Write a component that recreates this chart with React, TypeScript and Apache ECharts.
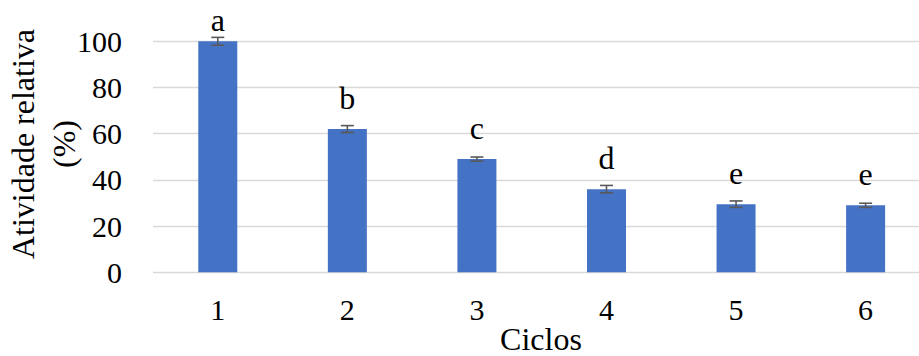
import React, { useEffect, useRef } from "react";
import * as echarts from "echarts";

const categories = ["1", "2", "3", "4", "5", "6"];
const values = [100, 62, 49, 36, 29.5, 29];
const errors = [1.7, 1.5, 0.9, 1.6, 1.4, 0.9];
const letters = ["a", "b", "c", "d", "e", "e"];
const yTitleLines = ["Atividade relativa", "(%)"];
const xTitle = "Ciclos";

const FONT = "Liberation Serif, Times New Roman, serif";

export default function App() {
  const ref = useRef<HTMLDivElement>(null);
  useEffect(() => {
    if (!ref.current) return;
    const chart = echarts.init(ref.current, null, { renderer: "svg" });
    const errData = values.map((v, i) => [i, v - errors[i], v + errors[i]]);
    const titleStyle = {
      fontFamily: FONT,
      fontSize: 32,
      fill: "#000",
      textAlign: "center",
      textVerticalAlign: "middle",
    };
    chart.setOption({
      animation: false,
      textStyle: { fontFamily: FONT },
      grid: { left: 153, top: 41.3, width: 777.4, height: 231 },
      xAxis: {
        type: "category",
        data: categories,
        axisLine: { show: false },
        axisTick: { show: false },
        axisLabel: { fontFamily: FONT, fontSize: 30, color: "#000", margin: 22 },
      },
      yAxis: {
        type: "value",
        min: 0,
        max: 100,
        interval: 20,
        axisLine: { show: false },
        axisTick: { show: false },
        axisLabel: { fontFamily: FONT, fontSize: 30, color: "#000", margin: 31 },
        splitLine: { lineStyle: { color: "#d9d9d9", width: 1.3 } },
      },
      graphic: [
        {
          type: "text",
          x: 23,
          y: 144,
          rotation: Math.PI / 2,
          style: { ...titleStyle, text: yTitleLines[0] },
        },
        {
          type: "text",
          x: 64,
          y: 144,
          rotation: Math.PI / 2,
          style: { ...titleStyle, text: yTitleLines[1] },
        },
        {
          type: "text",
          x: 541,
          y: 339,
          style: { ...titleStyle, text: xTitle },
        },
      ],
      series: [
        {
          type: "bar",
          barWidth: 39,
          itemStyle: { color: "#4472c4" },
          data: values.map((v, i) => ({
            value: v,
            label: i === 0 ? { offset: [0, 10] } : undefined,
          })),
          label: {
            show: true,
            position: "top",
            distance: 15,
            fontFamily: FONT,
            fontSize: 32,
            color: "#000",
            formatter: (p: any) => letters[p.dataIndex],
          },
        },
        {
          type: "custom",
          z: 5,
          data: errData,
          renderItem: (params: any, api: any) => {
            const x = api.value(0);
            const lo = api.coord([x, api.value(1)]);
            const hi = api.coord([x, api.value(2)]);
            const cw = 6.5;
            const style = { stroke: "#595959", lineWidth: 1.6 };
            return {
              type: "group",
              children: [
                { type: "line", shape: { x1: lo[0], y1: lo[1], x2: hi[0], y2: hi[1] }, style },
                { type: "line", shape: { x1: lo[0] - cw, y1: lo[1], x2: lo[0] + cw, y2: lo[1] }, style },
                { type: "line", shape: { x1: hi[0] - cw, y1: hi[1], x2: hi[0] + cw, y2: hi[1] }, style },
              ],
            };
          },
        },
      ],
    });
    return () => chart.dispose();
  }, []);
  return (
    <div
      style={{ position: "fixed", left: 0, top: 0, width: 919, height: 356, overflow: "hidden", background: "#fff" }}
    >
      <div ref={ref} style={{ width: 940, height: 356 }} />
    </div>
  );
}
